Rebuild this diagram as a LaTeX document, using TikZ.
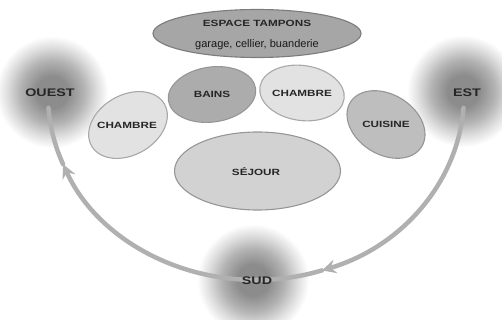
\documentclass[tikz,border=0pt]{standalone}
\usepackage{fontspec}
\setmainfont{Liberation Sans}
\newfontfamily\labelfont[FakeStretch=1.3]{Liberation Sans}
\usetikzlibrary{arrows.meta,shapes.geometric}
\definecolor{txt}{HTML}{262626}
\definecolor{blobA}{HTML}{8c8c8c}
\definecolor{blobB}{HTML}{b2b2b2}
\definecolor{blobC}{HTML}{dedede}
\definecolor{flowc}{HTML}{b0b0b0}
\definecolor{edgeDark}{HTML}{7c7c7c}
\definecolor{edgeMid}{HTML}{969696}
\definecolor{edgeLight}{HTML}{a8a8a8}
\definecolor{fillTampon}{HTML}{a6a6a6}
\definecolor{fillBains}{HTML}{acacac}
\definecolor{fillLight}{HTML}{e2e2e2}
\definecolor{fillCuisine}{HTML}{bebebe}
\definecolor{fillSejour}{HTML}{d2d2d2}
\pgfdeclareradialshading{blob}{\pgfpointorigin}{color(0bp)=(blobA); color(7bp)=(blobA); color(14bp)=(blobB); color(20bp)=(blobC); color(25bp)=(white); color(50bp)=(white)}
\tikzset{
  room/.style={ellipse, draw, line width=1.1pt, inner sep=0pt},
  lbl/.style={font=\labelfont\bfseries\fontsize{9}{10}\selectfont, text=txt, inner sep=0pt},
  cardinal/.style={font=\labelfont\bfseries\fontsize{11}{12}\selectfont, text=txt, inner sep=0pt},
  flow/.style={draw=flowc, line width=4.5pt, line cap=round},
  flowtip/.style={-{Stealth[length=14pt,width=14pt,inset=5pt]}}
}
\begin{document}
\begin{tikzpicture}[x=1pt,y=-1pt]
\useasboundingbox (0,0) rectangle (502,320);
% blurred compass blobs
\shade[shading=blob] (52,92) circle (56);
\shade[shading=blob] (463,91) circle (56);
\shade[shading=blob] (253,280) circle (56);
% orbit of the sun
\coordinate (estfoot) at (463.5,107.9);
\coordinate (tipE) at (322,270.4);
\coordinate (sudmid) at (256,280);
\coordinate (tipW) at (63.1,164.3);
\coordinate (ouestfoot) at (48.5,107.9);
\draw[flow,flowtip] (estfoot) arc[start angle=4,end angle=71.5,x radius=208,y radius=185];
\draw[flow] (tipE) arc[start angle=71.5,end angle=90,x radius=208,y radius=185];
\draw[flow,flowtip] (sudmid) arc[start angle=90,end angle=158,x radius=208,y radius=185];
\draw[flow] (tipW) arc[start angle=158,end angle=176,x radius=208,y radius=185];
% rooms
\node[room, draw=edgeDark, fill=fillTampon, minimum width=208pt, minimum height=48pt] (tamponShape) at (257,33.5) {};
\node[room, draw=edgeMid, fill=fillBains, minimum width=88pt, minimum height=55pt, rotate=8] (bainsShape) at (212,94.5) {};
\node[room, draw=edgeLight, fill=fillLight, minimum width=85pt, minimum height=55pt, rotate=-8] (chambreEstShape) at (302,93) {};
\node[room, draw=edgeLight, fill=fillLight, minimum width=84pt, minimum height=60pt, rotate=30] (chambreOuestShape) at (128,125) {};
\node[room, draw=edgeMid, fill=fillCuisine, minimum width=84pt, minimum height=60pt, rotate=-32] (cuisineShape) at (386,124.5) {};
\node[room, draw=edgeMid, fill=fillSejour, minimum width=166pt, minimum height=78pt] (sejourShape) at (257.5,171) {};
% labels
\node[lbl] (tampon) at (257,23) {ESPACE TAMPONS};
\node[font=\fontsize{11}{12}\selectfont, text=black!90, inner sep=0pt] (tamponSub) at (257,45) {garage, cellier, buanderie};
\node[lbl] (bains) at (212,94) {BAINS};
\node[lbl] (chambreEst) at (302,93) {CHAMBRE};
\node[lbl] (chambreOuest) at (127,125) {CHAMBRE};
\node[lbl] (cuisine) at (386,124) {CUISINE};
\node[lbl] (sejour) at (256,172) {SÉJOUR};
\node[cardinal] (ouest) at (50,93) {OUEST};
\node[cardinal] (est) at (467,93) {EST};
\node[cardinal] (sud) at (257,281) {SUD};
\end{tikzpicture}
\end{document}
